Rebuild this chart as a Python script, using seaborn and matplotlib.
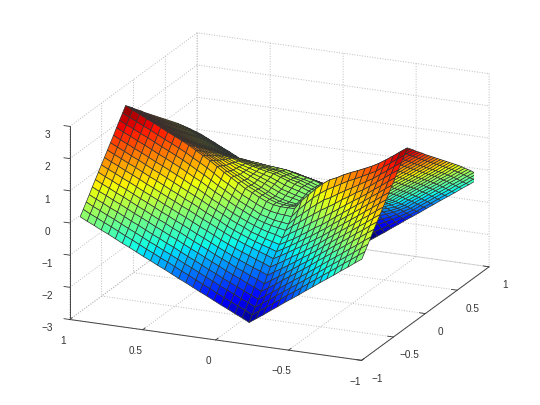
import matplotlib
matplotlib.use("Agg")
import matplotlib.pyplot as plt
from matplotlib.transforms import ScaledTranslation
import numpy as np
import seaborn as sns

x_values = [-.95,-.9025,-.855,-.8075,-.76,-.7125,-.665,-.6175,-.57,-.5225,-.475,-.4275,-.38,-.3325,-.285,-.2375,-.19,-.1425,-.095,-.0475,0,
            .0475,.095,.1425,.19,.2375,.285,.3325,.38,.4275,.475,.5225,.57,.6175,.665,.7125,.76,.8075,.855,.9025,.95]
y_values = [-.98,-.932,-.884,-.835,-.787,-.739,-.691,-.642,-.594,-.546,-.498,-.449,-.401,-.353,-.305,-.256,-.208,-.16,-.111,-.063,-.015,
            .034,.082,.13,.178,.227,.275,.323,.371,.42,.468,.516,.564,.613,.661,.709,.757,.806,.854,.902,.95]
x_ticks = [-1,-.5,0,.5,1]
y_ticks = [-1,-.5,0,.5,1]
z_ticks = [-3,-2,-1,0,1,2,3]

z_rows = [
[.06,.22,.38,.54,.71,.87,1.03,1.19,1.35,1.51,1.67,1.83,2.00,2.16,2.32,2.48,2.38,2.28,2.17,2.07,1.97,1.86,1.76,1.66,1.56,1.46,1.36,1.26,1.16,1.06,.96,.86,.76,.65,.54,.43,.32,.20,.09,-.03,-.14],
[-.09,.07,.23,.39,.56,.72,.88,1.04,1.20,1.36,1.52,1.68,1.85,2.01,2.17,2.33,2.23,2.13,2.02,1.92,1.82,1.71,1.61,1.51,1.41,1.31,1.21,1.11,1.01,.91,.81,.71,.61,.50,.39,.28,.17,.05,-.06,-.18,-.29],
[-.25,-.09,.07,.23,.40,.56,.72,.88,1.04,1.20,1.36,1.52,1.69,1.85,2.01,2.17,2.07,1.97,1.86,1.76,1.66,1.55,1.45,1.35,1.25,1.15,1.05,.95,.85,.75,.65,.55,.45,.34,.23,.12,.01,-.11,-.22,-.34,-.45],
[-.40,-.24,-.08,.08,.25,.41,.57,.73,.89,1.05,1.21,1.37,1.54,1.70,1.86,2.02,1.92,1.82,1.71,1.61,1.51,1.40,1.30,1.20,1.10,1.00,.90,.80,.70,.60,.50,.40,.30,.19,.08,-.03,-.14,-.26,-.37,-.49,-.60],
[-.56,-.40,-.24,-.08,.09,.25,.41,.57,.73,.89,1.05,1.21,1.38,1.54,1.70,1.88,1.78,1.66,1.55,1.45,1.35,1.24,1.14,1.04,.94,.84,.74,.64,.54,.44,.34,.24,.14,.03,-.08,-.19,-.30,-.42,-.53,-.65,-.76],
[-.71,-.55,-.39,-.23,-.06,.10,.26,.42,.58,.74,.90,1.06,1.23,1.42,1.59,1.76,1.65,1.54,1.40,1.30,1.20,1.09,.99,.89,.79,.69,.59,.49,.39,.29,.19,.09,-.01,-.12,-.23,-.34,-.45,-.57,-.68,-.80,-.91],
[-.86,-.70,-.54,-.38,-.21,-.05,.11,.27,.43,.59,.75,.92,1.11,1.29,1.48,1.66,1.54,1.41,1.28,1.16,1.05,.94,.84,.74,.64,.54,.44,.34,.24,.14,.04,-.06,-.16,-.27,-.38,-.49,-.60,-.72,-.83,-.95,-1.06],
[-1.02,-.86,-.70,-.54,-.37,-.21,-.05,.11,.27,.43,.59,.77,.96,1.16,1.37,1.56,1.43,1.28,1.13,1.01,.89,.78,.68,.58,.48,.38,.28,.18,.08,-.02,-.12,-.22,-.32,-.43,-.54,-.65,-.76,-.88,-.99,-1.11,-1.22],
[-1.17,-1.01,-.85,-.69,-.52,-.36,-.20,-.04,.12,.28,.44,.62,.83,1.04,1.27,1.47,1.33,1.16,1.0,.86,.74,.63,.53,.43,.33,.23,.13,.03,-.07,-.17,-.27,-.37,-.47,-.58,-.69,-.80,-.91,-1.03,-1.14,-1.26,-1.37],
[-1.33,-1.17,-1.01,-.85,-.68,-.52,-.36,-.20,-.04,.12,.28,.47,.68,.91,1.15,1.37,1.21,1.03,.85,.71,.58,.47,.37,.27,.17,.07,-.03,-.13,-.23,-.33,-.43,-.53,-.63,-.74,-.85,-.96,-1.07,-1.19,-1.30,-1.42,-1.53],
[-1.48,-1.32,-1.16,-1.0,-.83,-.67,-.51,-.35,-.18,-.02,.13,.32,.54,.77,1.03,1.25,1.09,.89,.71,.57,.45,.35,.26,.16,.06,-.03,-.13,-.23,-.33,-.43,-.53,-.63,-.73,-.84,-.97,-1.08,-1.19,-1.31,-1.44,-1.56,-1.68],
[-1.63,-1.47,-1.31,-1.15,-.98,-.81,-.65,-.49,-.32,-.17,0,.19,.41,.66,.91,1.15,.98,.79,.60,.47,.34,.25,.17,.08,-.01,-.10,-.19,-.29,-.39,-.49,-.59,-.70,-.80,-.92,-1.05,-1.18,-1.30,-1.44,-1.57,-1.70,-1.83],
[-1.79,-1.63,-1.46,-1.30,-1.13,-.97,-.80,-.63,-.46,-.30,-.15,.05,.26,.50,.76,1.00,.84,.66,.48,.36,.26,.18,.11,.04,-.04,-.12,-.19,-.29,-.39,-.49,-.59,-.71,-.83,-.96,-1.10,-1.25,-1.39,-1.55,-1.69,-1.85,-1.99],
[-1.94,-1.78,-1.61,-1.45,-1.27,-1.11,-.94,-.76,-.59,-.44,-.29,-.10,.11,.33,.59,.81,.68,.50,.34,.25,.17,.12,.07,.01,-.05,-.12,-.18,-.28,-.38,-.48,-.58,-.71,-.83,-.97,-1.14,-1.31,-1.47,-1.64,-1.80,-1.98,-2.14],
[-2.10,-1.93,-1.77,-1.60,-1.43,-1.26,-1.08,-.90,-.72,-.57,-.43,-.24,-.05,.15,.38,.60,.49,.36,.22,.17,.11,.09,.06,.02,-.02,-.08,-.12,-.22,-.32,-.42,-.52,-.66,-.80,-.95,-1.14,-1.34,-1.53,-1.73,-1.91,-2.12,-2.30],
[-2.25,-2.08,-1.91,-1.75,-1.57,-1.40,-1.21,-1.03,-.85,-.70,-.55,-.37,-.20,-.03,.17,.38,.31,.22,.12,.10,.08,.07,.07,.04,.02,-.03,-.05,-.15,-.25,-.35,-.45,-.61,-.75,-.92,-1.14,-1.36,-1.58,-1.81,-2.01,-2.24,-2.45],
[-2.40,-2.23,-2.06,-1.89,-1.71,-1.54,-1.35,-1.16,-.97,-.82,-.67,-.53,-.37,-.24,-.08,.10,.07,.03,-.01,0,.02,.04,.05,.05,.04,.01,0,-.10,-.20,-.30,-.40,-.57,-.73,-.91,-1.15,-1.40,-1.64,-1.89,-2.12,-2.37,-2.60],
[-2.29,-2.12,-1.95,-1.79,-1.61,-1.44,-1.25,-1.07,-.89,-.74,-.61,-.46,-.32,-.21,-.06,.10,.08,.04,.01,.04,.06,.10,.13,.12,.11,.09,.08,-.02,-.12,-.22,-.32,-.49,-.65,-.83,-1.06,-1.31,-1.54,-1.79,-2.02,-2.26,-2.49],
[-2.19,-2.02,-1.86,-1.69,-1.52,-1.35,-1.17,-.99,-.81,-.67,-.55,-.41,-.28,-.18,-.04,.10,.09,.06,.04,.09,.11,.17,.22,.20,.19,.17,.16,.06,-.04,-.14,-.24,-.41,-.57,-.74,-.98,-1.22,-1.45,-1.70,-1.92,-2.17,-2.39],
[-2.08,-1.92,-1.75,-1.59,-1.41,-1.25,-1.08,-.90,-.73,-.60,-.47,-.35,-.22,-.12,0,.13,.13,.10,.09,.14,.18,.23,.28,.28,.26,.23,.21,.11,.01,-.09,-.19,-.35,-.51,-.68,-.91,-1.14,-1.37,-1.61,-1.82,-2.06,-2.28],
[-1.98,-1.82,-1.65,-1.49,-1.32,-1.16,-.99,-.82,-.65,-.52,-.40,-.27,-.15,-.06,.07,.20,.20,.18,.16,.22,.24,.30,.36,.33,.31,.27,.26,.16,.06,-.04,-.14,-.30,-.46,-.62,-.85,-1.07,-1.29,-1.53,-1.74,-1.97,-2.18],
[-1.87,-1.71,-1.55,-1.39,-1.22,-1.05,-.89,-.73,-.56,-.43,-.29,-.18,-.05,.06,.17,.30,.30,.28,.27,.32,.36,.39,.44,.41,.38,.34,.31,.21,.11,.01,-.09,-.25,-.39,-.56,-.77,-1.0,-1.21,-1.43,-1.64,-1.86,-2.07],
[-1.76,-1.60,-1.44,-1.28,-1.11,-.95,-.79,-.63,-.47,-.34,-.20,-.08,.06,.16,.28,.41,.41,.39,.37,.42,.44,.48,.52,.48,.45,.40,.37,.27,.17,.07,-.03,-.19,-.33,-.49,-.70,-.92,-1.12,-1.34,-1.54,-1.76,-1.96],
[-1.66,-1.50,-1.34,-1.18,-1.01,-.85,-.69,-.53,-.37,-.24,-.10,.02,.16,.27,.39,.51,.51,.48,.47,.50,.52,.54,.56,.53,.48,.42,.39,.29,.19,.09,-.01,-.16,-.30,-.46,-.66,-.86,-1.06,-1.27,-1.46,-1.67,-1.86],
[-1.55,-1.39,-1.23,-1.07,-.90,-.74,-.58,-.42,-.26,-.12,.02,.14,.28,.40,.52,.65,.63,.60,.57,.59,.59,.60,.61,.57,.52,.46,.41,.31,.21,.11,.01,-.13,-.27,-.42,-.61,-.80,-.99,-1.19,-1.37,-1.57,-1.75],
[-1.44,-1.28,-1.12,-.96,-.79,-.63,-.47,-.31,-.15,-.01,.13,.26,.41,.53,.66,.79,.76,.72,.68,.69,.67,.67,.66,.60,.55,.49,.43,.33,.23,.13,.03,-.10,-.24,-.38,-.56,-.74,-.92,-1.11,-1.28,-1.47,-1.64],
[-1.34,-1.18,-1.02,-.86,-.69,-.53,-.37,-.21,-.05,.09,.24,.37,.52,.65,.78,.92,.88,.83,.79,.77,.75,.73,.71,.65,.59,.51,.46,.36,.26,.16,.06,-.08,-.20,-.34,-.51,-.69,-.85,-1.03,-1.20,-1.38,-1.54],
[-1.23,-1.07,-.91,-.75,-.58,-.42,-.26,-.10,.06,.21,.36,.50,.65,.79,.93,1.07,1.02,.96,.90,.88,.84,.79,.76,.69,.62,.55,.48,.38,.28,.18,.08,-.05,-.17,-.31,-.47,-.63,-.78,-.95,-1.11,-1.28,-1.43],
[-1.12,-.96,-.80,-.64,-.47,-.31,-.15,.01,.17,.32,.47,.62,.78,.92,1.07,1.22,1.16,1.10,1.03,.98,.92,.87,.82,.75,.67,.59,.51,.41,.31,.21,.11,-.01,-.13,-.26,-.41,-.56,-.71,-.87,-1.01,-1.17,-1.32],
[-1.02,-.86,-.70,-.54,-.37,-.21,-.05,.11,.27,.42,.58,.73,.89,1.04,1.20,1.35,1.28,1.21,1.13,1.07,1.0,.92,.86,.78,.69,.60,.52,.42,.32,.22,.12,.01,-.11,-.23,-.37,-.51,-.65,-.80,-.93,-1.08,-1.22],
[-.91,-.75,-.59,-.43,-.26,-.10,.06,.22,.38,.54,.69,.85,1.01,1.17,1.32,1.48,1.40,1.32,1.23,1.15,1.08,1.0,.92,.82,.74,.65,.56,.46,.36,.26,.16,.04,-.06,-.18,-.31,-.45,-.57,-.71,-.84,-.98,-1.11],
[-.81,-.65,-.49,-.33,-.16,0,.16,.32,.48,.64,.80,.96,1.13,1.29,1.45,1.61,1.52,1.44,1.34,1.25,1.16,1.07,.98,.89,.79,.70,.60,.50,.40,.30,.20,.09,-.01,-.13,-.25,-.38,-.50,-.63,-.75,-.89,-1.01],
[-.70,-.54,-.38,-.22,-.05,.11,.27,.43,.59,.75,.91,1.07,1.24,1.40,1.56,1.72,1.63,1.53,1.43,1.34,1.24,1.14,1.05,.95,.85,.75,.66,.56,.46,.36,.26,.15,.05,-.06,-.18,-.30,-.41,-.54,-.66,-.78,-.90],
[-.59,-.43,-.27,-.11,.06,.22,.38,.54,.70,.86,1.02,1.18,1.35,1.51,1.67,1.83,1.73,1.63,1.52,1.42,1.32,1.21,1.11,1.01,.91,.81,.71,.61,.51,.41,.31,.21,.11,0,-.11,-.22,-.33,-.45,-.56,-.68,-.79],
[-.49,-.33,-.17,-.01,.16,.32,.48,.64,.80,.96,1.12,1.28,1.45,1.61,1.77,1.93,1.83,1.73,1.62,1.52,1.42,1.31,1.21,1.11,1.01,.91,.81,.71,.61,.51,.41,.31,.21,.10,-.01,-.12,-.23,-.35,-.46,-.58,-.69],
[-.38,-.22,-.06,.10,.27,.43,.59,.75,.91,1.07,1.23,1.39,1.56,1.72,1.88,2.04,1.94,1.84,1.73,1.63,1.53,1.42,1.32,1.22,1.12,1.02,.92,.82,.72,.62,.52,.42,.32,.21,.10,-.01,-.12,-.24,-.35,-.47,-.58],
[-.27,-.11,.05,.21,.38,.54,.70,.86,1.02,1.18,1.34,1.50,1.67,1.83,1.99,2.15,2.05,1.95,1.84,1.74,1.64,1.53,1.43,1.33,1.23,1.13,1.03,.93,.83,.73,.63,.53,.43,.32,.21,.10,-.01,-.13,-.24,-.36,-.47],
[-.17,-.01,.15,.31,.48,.64,.80,.96,1.12,1.28,1.44,1.60,1.77,1.93,2.09,2.25,2.15,2.05,1.94,1.84,1.74,1.63,1.53,1.43,1.33,1.23,1.13,1.03,.93,.83,.73,.63,.53,.42,.31,.20,.09,-.03,-.14,-.26,-.37],
[-.06,.10,.26,.42,.59,.75,.91,1.07,1.23,1.39,1.55,1.71,1.88,2.04,2.20,2.36,2.26,2.16,2.05,1.95,1.85,1.74,1.64,1.54,1.44,1.34,1.24,1.14,1.04,.94,.84,.74,.64,.53,.42,.31,.20,.08,-.03,-.15,-.26],
[.04,.20,.36,.52,.69,.85,1.01,1.17,1.33,1.49,1.65,1.81,1.98,2.14,2.30,2.46,2.36,2.26,2.15,2.05,1.95,1.84,1.74,1.64,1.54,1.44,1.34,1.24,1.14,1.04,.94,.84,.74,.63,.52,.41,.30,.18,.07,-.05,-.16],
[.15,.31,.47,.63,.80,.96,1.12,1.28,1.44,1.60,1.76,1.92,2.09,2.25,2.41,2.57,2.47,2.37,2.26,2.16,2.06,1.95,1.85,1.75,1.65,1.55,1.45,1.35,1.25,1.15,1.05,.95,.85,.74,.63,.52,.41,.29,.18,.06,-.05],
]

sns.set_style("white")
plt.rcParams["font.family"] = ["Liberation Sans", "DejaVu Sans"]
plt.rcParams["axes.unicode_minus"] = True

fig = plt.figure(figsize=(5.4, 4.06), dpi=100)
ax = fig.add_axes([74/540, 3/406, 400/540, 400/406], projection="3d", proj_type="ortho")
ax.set_box_aspect((1, 1, 0.64), zoom=1.2)
ax.view_init(elev=18.7, azim=203.6)

X, Y = np.meshgrid(x_values, y_values)
Z = np.array(z_rows)
jet = matplotlib.colormaps["jet"]
ax.plot_surface(X, Y, Z, rstride=1, cstride=1, cmap=jet, vmin=-2.45, vmax=2.57,
                edgecolor="#303030", linewidth=0.5, shade=False, antialiased=True)

ax.set_xlim(-1, 1, view_margin=0)
ax.set_ylim(-1, 1, view_margin=0)
ax.set_zlim(-3, 3, view_margin=0)
ax.set_xticks(x_ticks)
ax.set_yticks(y_ticks)
ax.set_zticks(z_ticks)
ax.set_xticklabels(["\u22121", "\u22120.5", "0", "0.5", "1"])
ax.set_yticklabels(["\u22121", "\u22120.5", "0", "0.5", "1"])
ax.set_zticklabels(["\u22123", "\u22122", "\u22121", "0", "1", "2", "3"])
ax.tick_params(labelsize=7.2, colors="#333333", pad=0)

for a in (ax.xaxis, ax.yaxis, ax.zaxis):
    a.set_pane_color((1, 1, 1, 0))
    a.pane.set_edgecolor((1, 1, 1, 0))
    a.line.set_color("#444444")
    a.line.set_linewidth(0.7)
    a._axinfo["grid"].update(color="#bbbbbb", linestyle=":", linewidth=0.7)
    a._axinfo["tick"].update(inward_factor=0.0, outward_factor=0.25)
    a._axinfo["tick"]["linewidth"] = {True: 0.6, False: 0.4}
ax.zaxis._axinfo["juggled"] = (1, 2, 0)
ax.zaxis.set_ticks_position("lower")


def nudge(axis, dx_px, dy_px):
    shift = ScaledTranslation(dx_px / 100, dy_px / 100, fig.dpi_scale_trans)
    for label in axis.get_ticklabels():
        label.set_transform(label.get_transform() + shift)


nudge(ax.xaxis, -2, 11)
nudge(ax.yaxis, -6, 9)
nudge(ax.zaxis, 8, 7)

fig.savefig("out.png", dpi=100)
